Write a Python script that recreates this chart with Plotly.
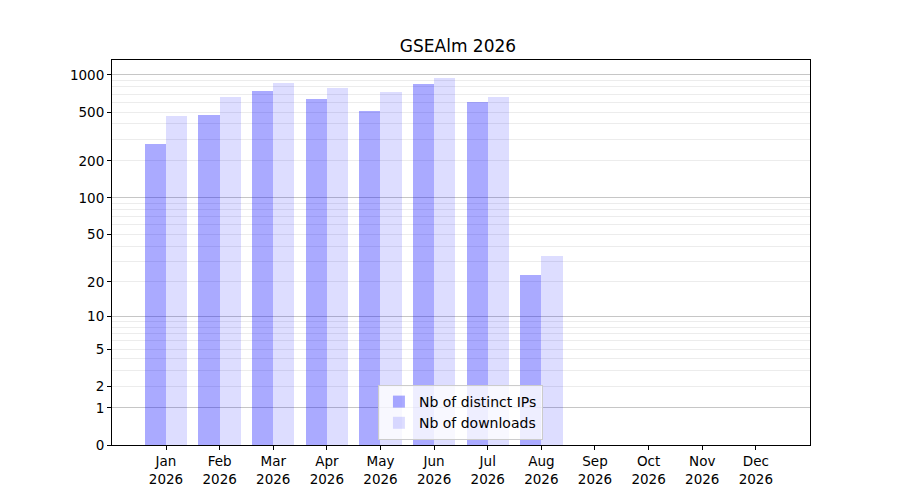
import numpy as np
import plotly.graph_objects as go

months = ["Jan", "Feb", "Mar", "Apr", "May", "Jun", "Jul", "Aug", "Sep", "Oct", "Nov", "Dec"]
year = "2026"
distinct_ips = [275, 474, 742, 639, 511, 846, 604, 23, 0, 0, 0, 0]
downloads = [465, 663, 862, 785, 729, 946, 663, 33, 0, 0, 0, 0]
y_tick_labels = [0, 1, 2, 5, 10, 20, 50, 100, 200, 500, 1000]
major_grid = [1, 10, 100, 1000]
minor_grid = [m * d for d in (1, 10, 100) for m in range(2, 10)]


def tf(v):
    return np.log10(1 + np.asarray(v, dtype=float))


x = np.arange(len(months))
bw = 0.395

fig = go.Figure()
fig.add_bar(x=x, y=tf(distinct_ips), width=bw, offset=-bw, name="Nb of distinct IPs",
            marker=dict(color="rgba(0,0,255,0.333)", line=dict(width=0)))
fig.add_bar(x=x, y=tf(downloads), width=bw, offset=0, name="Nb of downloads",
            marker=dict(color="rgba(0,0,255,0.133)", line=dict(width=0)))
# invisible trace to activate overlay axis for darker major grid
fig.add_scatter(x=[x[0]], y=[0], yaxis="y2", mode="markers", marker=dict(opacity=0),
                showlegend=False, hoverinfo="skip")

yr = [0, 3.122]
font = dict(family="DejaVu Sans", size=14, color="black")
fig.update_layout(
    width=900, height=500,
    margin=dict(l=104, r=98, t=52, b=63),
    paper_bgcolor="white", plot_bgcolor="white",
    font=font,
    title=dict(text="GSEAlm 2026", x=0.5, xanchor="center", y=0.924, yanchor="middle",
               font=dict(family="DejaVu Sans", size=17, color="black")),
    barmode="overlay",
    bargap=0,
    xaxis=dict(range=[-1.007, 12.01], tickvals=list(x),
               ticktext=[f"{m}<br>{year}" for m in months],
               showgrid=False, zeroline=False, showline=True, linecolor="black", linewidth=1,
               mirror=True, ticks="outside", ticklen=4, tickcolor="black",
               tickfont=dict(family="DejaVu Sans", size=13.5, color="black")),
    yaxis=dict(range=yr, tickvals=list(tf(y_tick_labels)), ticktext=[str(v) for v in y_tick_labels],
               showgrid=True, gridcolor="#ececec", gridwidth=1, zeroline=False,
               showline=True, linecolor="black", linewidth=1, mirror=True,
               ticks="outside", ticklen=4, tickcolor="black",
               tickfont=dict(family="DejaVu Sans", size=13.5, color="black"),
               minor=dict(tickvals=list(tf(minor_grid)), showgrid=True, gridcolor="#ececec",
                          gridwidth=1, ticks="")),
    yaxis2=dict(range=yr, overlaying="y", tickvals=list(tf(major_grid)), showticklabels=False,
                showgrid=True, gridcolor="#c6c6c6", gridwidth=1, zeroline=False, showline=False,
                ticks=""),
    legend=dict(x=0.381, y=0.013, xanchor="left", yanchor="bottom",
                bgcolor="rgba(255,255,255,0.8)", bordercolor="#cccccc", borderwidth=1,
                font=dict(family="DejaVu Sans", size=14, color="black"),
                traceorder="normal"),
    showlegend=True,
)

fig.write_html("out.html")
